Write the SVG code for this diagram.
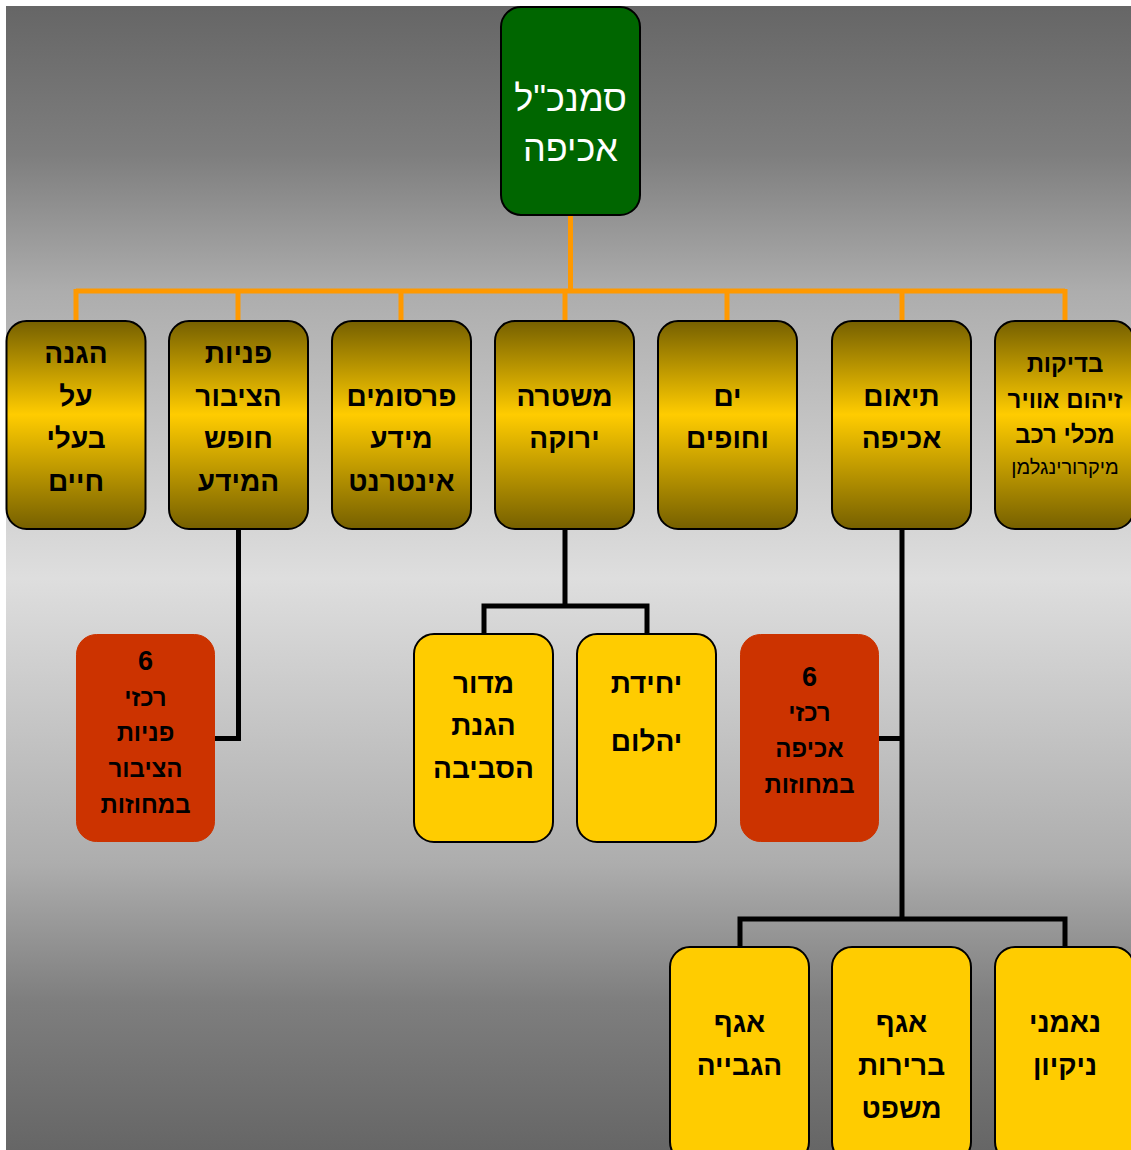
<svg xmlns="http://www.w3.org/2000/svg" width="1131" height="1150" viewBox="0 0 1131 1150">
<defs>
<linearGradient id="bg" x1="0" y1="0" x2="0" y2="1">
<stop offset="0" stop-color="#666666"/>
<stop offset="0.13" stop-color="#7e7e7e"/>
<stop offset="0.25" stop-color="#adadad"/>
<stop offset="0.5" stop-color="#dedede"/>
<stop offset="0.75" stop-color="#adadad"/>
<stop offset="0.87" stop-color="#7e7e7e"/>
<stop offset="1" stop-color="#666666"/>
</linearGradient>
<linearGradient id="gold" x1="0" y1="0" x2="0" y2="1">
<stop offset="0" stop-color="#766000"/>
<stop offset="0.45" stop-color="#ffcc00"/>
<stop offset="1" stop-color="#766000"/>
</linearGradient>
<style>
.box{stroke:#000;stroke-width:2}
.gold{fill:url(#gold)}
.yel{fill:#ffcc00}
.red{fill:#cc3300;stroke:#cc3300;stroke-width:1}
.green{fill:#006600}
text{font-family:"Liberation Sans",Arial,sans-serif;text-anchor:middle;fill:#000}
.t28{font-size:28px;font-weight:bold}
.t24{font-size:24px;font-weight:bold}
.num{font-size:27px;font-weight:bold}
.t20{font-size:20px}
.top{font-size:36px;fill:#fff}
.org{stroke:#ff9900;stroke-width:5;fill:none}
.blk{stroke:#000;stroke-width:5;fill:none}
</style>
</defs>
<rect x="6" y="6" width="1125" height="1144" fill="url(#bg)"/>
<g id="connectors">
<path class="org" d="M570.5 215V291M76 291H1065M76 289V321M238 289V321M401 289V321M565 289V321M727 289V321M902 289V321M1065 289V321"/>
<path class="blk" d="M238.5 529V738.5H215"/>
<path class="blk" d="M565 529V606M484 634V606H647V634"/>
<path class="blk" d="M902 529V919M740 947V919H1065V947M879 738.5H902"/>
</g>
<g id="n-top">
<rect class="box green" x="501" y="7" width="139" height="208" rx="20"/>
<text class="top" x="570.5" y="111">סמנכ"ל</text>
<text class="top" x="570.5" y="161">אכיפה</text>
</g>
<g id="n-animals">
<rect class="box gold" x="6.5" y="321" width="139" height="208" rx="20"/>
<text class="t28" x="76" y="363">הגנה</text>
<text class="t28" x="76" y="406">על</text>
<text class="t28" x="76" y="448">בעלי</text>
<text class="t28" x="76" y="491">חיים</text>
</g>
<g id="n-public">
<rect class="box gold" x="169" y="321" width="139" height="208" rx="20"/>
<text class="t28" x="238.5" y="363">פניות</text>
<text class="t28" x="238.5" y="406">הציבור</text>
<text class="t28" x="238.5" y="448">חופש</text>
<text class="t28" x="238.5" y="491">המידע</text>
</g>
<g id="n-publish">
<rect class="box gold" x="332" y="321" width="139" height="208" rx="20"/>
<text class="t28" x="401.5" y="406">פרסומים</text>
<text class="t28" x="401.5" y="448">מידע</text>
<text class="t28" x="401.5" y="491">אינטרנט</text>
</g>
<g id="n-police">
<rect class="box gold" x="495" y="321" width="139" height="208" rx="20"/>
<text class="t28" x="564.5" y="406">משטרה</text>
<text class="t28" x="564.5" y="448">ירוקה</text>
</g>
<g id="n-sea">
<rect class="box gold" x="658" y="321" width="139" height="208" rx="20"/>
<text class="t28" x="727.5" y="406">ים</text>
<text class="t28" x="727.5" y="448">וחופים</text>
</g>
<g id="n-coord">
<rect class="box gold" x="832" y="321" width="139" height="208" rx="20"/>
<text class="t28" x="901.5" y="406">תיאום</text>
<text class="t28" x="901.5" y="448">אכיפה</text>
</g>
<g id="n-tests">
<rect class="box gold" x="995" y="321" width="139" height="208" rx="20"/>
<text class="t24" x="1065" y="372">בדיקות</text>
<text class="t24" x="1065" y="408">זיהום אוויר</text>
<text class="t24" x="1065" y="443">מכלי רכב</text>
<text class="t20" x="1065" y="474">מיקרורינגלמן</text>
</g>
<g id="n-red1">
<rect class="red" x="76.5" y="634.5" width="138" height="207" rx="20"/>
<text class="num" x="145.5" y="670">6</text>
<text class="t24" x="145.5" y="706">רכזי</text>
<text class="t24" x="145.5" y="741">פניות</text>
<text class="t24" x="145.5" y="777">הציבור</text>
<text class="t24" x="145.5" y="813">במחוזות</text>
</g>
<g id="n-env">
<rect class="box yel" x="414" y="634" width="139" height="208" rx="20"/>
<text class="t28" x="483.5" y="693">מדור</text>
<text class="t28" x="483.5" y="735">הגנת</text>
<text class="t28" x="483.5" y="778">הסביבה</text>
</g>
<g id="n-yahalom">
<rect class="box yel" x="577" y="634" width="139" height="208" rx="20"/>
<text class="t28" x="646.5" y="693">יחידת</text>
<text class="t28" x="646.5" y="751">יהלום</text>
</g>
<g id="n-red2">
<rect class="red" x="740.5" y="634.5" width="138" height="207" rx="20"/>
<text class="num" x="809.5" y="686">6</text>
<text class="t24" x="809.5" y="721">רכזי</text>
<text class="t24" x="809.5" y="757">אכיפה</text>
<text class="t24" x="809.5" y="793">במחוזות</text>
</g>
<g id="n-collect">
<rect class="box yel" x="670" y="947" width="139" height="215" rx="20"/>
<text class="t28" x="739.5" y="1032">אגף</text>
<text class="t28" x="739.5" y="1075">הגבייה</text>
</g>
<g id="n-fines">
<rect class="box yel" x="832" y="947" width="139" height="215" rx="20"/>
<text class="t28" x="901.5" y="1032">אגף</text>
<text class="t28" x="901.5" y="1075">ברירות</text>
<text class="t28" x="901.5" y="1118">משפט</text>
</g>
<g id="n-clean">
<rect class="box yel" x="995" y="947" width="139" height="215" rx="20"/>
<text class="t28" x="1065" y="1032">נאמני</text>
<text class="t28" x="1065" y="1075">ניקיון</text>
</g>
</svg>
